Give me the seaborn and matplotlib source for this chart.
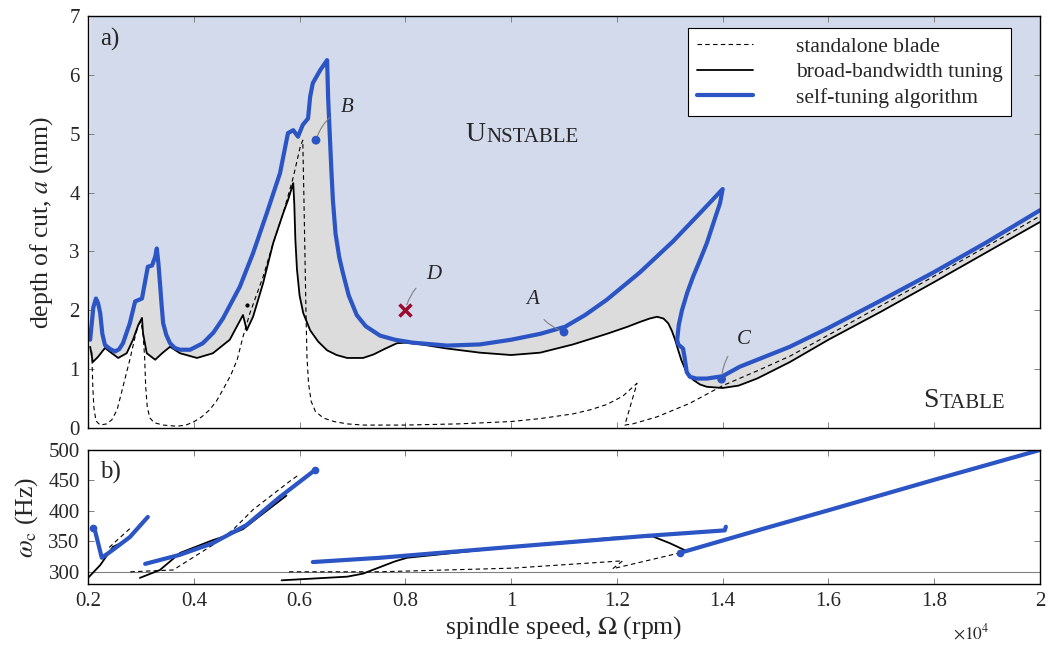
import numpy as np
import pandas as pd
import seaborn as sns
from matplotlib import pyplot as plt
from matplotlib.lines import Line2D

#%% Data (spindle speed in 1e4 rpm)
# top panel: stability lobes, depth of cut a (mm)
blue_top_x = [0.204, 0.210, 0.215, 0.219, 0.223, 0.227, 0.232, 0.242, 0.251, 0.259, 0.266, 0.279,
              0.289, 0.302, 0.313, 0.321, 0.327, 0.330, 0.333, 0.336, 0.339, 0.342, 0.348, 0.355,
              0.364, 0.374, 0.393, 0.417, 0.437, 0.455, 0.487, 0.512, 0.538, 0.563, 0.578, 0.588,
              0.597, 0.606, 0.616, 0.620, 0.625, 0.639, 0.652, 0.654, 0.657, 0.660, 0.663, 0.668,
              0.675, 0.682, 0.693, 0.708, 0.725, 0.752, 0.780, 0.814, 0.879, 0.941, 1.000, 1.055,
              1.102, 1.140, 1.181, 1.243, 1.306, 1.357, 1.400, 1.395, 1.385, 1.370, 1.357, 1.344,
              1.333, 1.323, 1.317, 1.314, 1.316, 1.325, 1.328, 1.332, 1.338, 1.350, 1.370, 1.400,
              1.432, 1.527, 1.600, 1.700, 1.800, 1.900, 2.000]
blue_top_y = [1.50, 2.05, 2.20, 2.12, 1.95, 1.60, 1.41, 1.34, 1.30, 1.34, 1.44, 1.78,
              2.15, 2.20, 2.74, 2.76, 2.91, 3.05, 2.80, 2.46, 2.10, 1.78, 1.58, 1.44,
              1.36, 1.33, 1.33, 1.44, 1.62, 1.86, 2.40, 2.97, 3.65, 4.33, 5.01, 5.06,
              4.95, 5.15, 5.26, 5.63, 5.86, 6.08, 6.25, 5.60, 5.00, 4.40, 3.87, 3.30,
              2.90, 2.63, 2.25, 1.92, 1.73, 1.57, 1.50, 1.45, 1.40, 1.42, 1.50, 1.60,
              1.72, 1.92, 2.18, 2.64, 3.17, 3.65, 4.06, 3.82, 3.55, 3.14, 2.85, 2.57,
              2.30, 2.00, 1.75, 1.50, 1.42, 1.35, 1.20, 0.95, 0.87, 0.84, 0.84, 0.88,
              1.04, 1.38, 1.70, 2.17, 2.65, 3.16, 3.70]

black_top_x = [0.204, 0.209, 0.219, 0.232, 0.245, 0.257, 0.273, 0.285, 0.295, 0.302, 0.304, 0.311,
               0.327, 0.340, 0.355, 0.374, 0.406, 0.436, 0.468, 0.493, 0.500, 0.512, 0.531, 0.550,
               0.569, 0.578, 0.586, 0.588, 0.590, 0.592, 0.595, 0.600, 0.607, 0.620, 0.635, 0.652,
               0.670, 0.690, 0.720, 0.740, 0.760, 0.784, 0.800, 0.830, 0.879, 0.941, 1.000, 1.055,
               1.117, 1.181, 1.220, 1.243, 1.262, 1.276, 1.288, 1.297, 1.304, 1.310, 1.316, 1.322,
               1.330, 1.344, 1.357, 1.370, 1.400, 1.430, 1.465, 1.527, 1.600, 1.700, 1.800, 1.900,
               2.000]
black_top_y = [1.38, 1.12, 1.21, 1.36, 1.27, 1.19, 1.27, 1.50, 1.75, 1.87, 1.61, 1.27,
               1.16, 1.27, 1.38, 1.27, 1.19, 1.27, 1.50, 1.92, 1.66, 1.89, 2.46, 3.14,
               3.65, 3.87, 4.10, 4.16, 3.80, 3.20, 2.70, 2.25, 1.95, 1.66, 1.47, 1.32,
               1.24, 1.19, 1.19, 1.25, 1.34, 1.44, 1.45, 1.42, 1.35, 1.28, 1.24, 1.28,
               1.42, 1.60, 1.72, 1.80, 1.86, 1.89, 1.86, 1.78, 1.65, 1.50, 1.32, 1.15,
               0.98, 0.82, 0.74, 0.70, 0.68, 0.72, 0.84, 1.12, 1.50, 1.98, 2.48, 2.99,
               3.50]

dash_top_x = [0.207, 0.209, 0.211, 0.215, 0.223, 0.235, 0.245, 0.255, 0.266, 0.279, 0.289, 0.295,
              0.300, 0.304, 0.307, 0.309, 0.312, 0.317, 0.325, 0.342, 0.368, 0.385, 0.399, 0.415,
              0.430, 0.443, 0.455, 0.470, 0.482, 0.493, 0.506, 0.531, 0.550, 0.569, 0.588, 0.601,
              0.606, 0.608, 0.610, 0.612, 0.614, 0.617, 0.622, 0.630, 0.645, 0.665, 0.690, 0.720,
              0.800, 0.900, 1.000, 1.055, 1.117, 1.150, 1.181, 1.211, 1.238, 1.215, 1.230, 1.276,
              1.338, 1.400, 1.465, 1.527, 1.600, 1.700, 1.800, 1.900, 2.000]
dash_top_y = [1.30, 0.70, 0.35, 0.12, 0.05, 0.07, 0.14, 0.31, 0.70, 1.16, 1.55, 1.75,
              1.80, 1.60, 1.20, 0.70, 0.35, 0.17, 0.09, 0.05, 0.03, 0.05, 0.10, 0.19,
              0.31, 0.46, 0.65, 0.90, 1.16, 1.55, 1.95, 2.57, 3.14, 3.65, 4.26, 4.77,
              4.89, 4.00, 3.00, 2.00, 1.20, 0.75, 0.45, 0.28, 0.17, 0.11, 0.07, 0.05,
              0.05, 0.07, 0.11, 0.16, 0.24, 0.31, 0.40, 0.54, 0.76, 0.05, 0.07, 0.19,
              0.42, 0.72, 0.97, 1.22, 1.58, 2.08, 2.58, 3.09, 3.60]

# test points
pts_name = ['A', 'B', 'C']
pts_x = [1.10, 0.631, 1.398]
pts_y = [1.63, 4.89, 0.83]
lbl_x = [1.04, 0.69, 1.44]
lbl_y = [2.19, 5.45, 1.50]
d_x, d_y = 0.80, 2.00

# bottom panel: chatter frequency (Hz), one list per branch
blue_bot_x = [[0.209, 0.213, 0.226, 0.247, 0.279, 0.313],
              [0.308, 0.374, 0.436, 0.500, 0.563, 0.629],
              [0.625, 0.752, 1.003, 1.257, 1.404, 1.406],
              [1.319, 1.470, 1.600, 1.800, 2.000]]
blue_bot_y = [[372, 368, 323, 336, 357, 390],
              [313, 328, 347, 377, 423, 467],
              [316, 323, 341, 359, 368, 374],
              [331, 369, 401, 451, 500]]

black_bot_x = [[0.200, 0.223, 0.247, 0.270],
               [0.298, 0.336, 0.374, 0.436, 0.468, 0.493, 0.530, 0.575],
               [0.566, 0.690, 0.720, 0.750, 0.780, 0.803, 1.003, 1.192, 1.268, 1.300, 1.332,
                1.470, 2.000]]
black_bot_y = [[290, 311, 341, 350],
               [290, 303, 331, 352, 361, 370, 395, 425],
               [286, 292, 297, 307, 317, 323, 341, 356, 358, 347, 334, 369, 500]]

dash_bot_x = [[0.240, 0.283],
              [0.280, 0.361, 0.436, 0.474, 0.512, 0.585, 0.600],
              [0.580, 0.752, 1.003, 1.211, 1.192, 1.319, 1.470, 2.000]]
dash_bot_y = [[340, 374],
              [300, 303, 344, 369, 402, 451, 460],
              [300, 300, 306, 318, 305, 331, 369, 500]]

x_ticks = [0.2, 0.4, 0.6, 0.8, 1.0, 1.2, 1.4, 1.6, 1.8, 2.0]
x_ticklabels = ['0.2', '0.4', '0.6', '0.8', '1', '1.2', '1.4', '1.6', '1.8', '2']

#%% Style
sns.set_style('ticks')
plt.rcParams['font.family'] = ['Liberation Serif', 'DejaVu Serif']
plt.rcParams['mathtext.fontset'] = 'stix'

BLUE = '#2b54c4'
FILL_BLUE = '#d3daec'
FILL_GRAY = '#dcdcdc'
RED = '#9a0b2e'
DASH = (0, (4, 3))

fig = plt.figure(figsize=(10.57, 6.48), dpi=100)
ax1 = fig.add_axes([0.0833, 0.3395, 0.9006, 0.6358])
ax2 = fig.add_axes([0.0833, 0.0988, 0.9006, 0.2068])

#%% Top panel
# unstable region above the blue curve
ax1.fill(blue_top_x + [2.0, 0.204], blue_top_y + [7, 7], color=FILL_BLUE, lw=0, zorder=0)
# gain region between broad-bandwidth and self-tuning
ax1.fill(blue_top_x + black_top_x[::-1], blue_top_y + black_top_y[::-1],
         color=FILL_GRAY, lw=0, zorder=0)

sns.lineplot(x=dash_top_x, y=dash_top_y, sort=False, estimator=None, ax=ax1,
             color='black', lw=0.8, linestyle=DASH)
sns.lineplot(x=black_top_x, y=black_top_y, sort=False, estimator=None, ax=ax1,
             color='black', lw=1.3)
ax1.plot([0.50], [2.09], 'o', color='black', ms=2)
sns.lineplot(x=blue_top_x, y=blue_top_y, sort=False, estimator=None, ax=ax1,
             color=BLUE, lw=3.0)

sns.scatterplot(x=pts_x, y=pts_y, ax=ax1, color=BLUE, s=40, edgecolor='none', zorder=5)
ax1.plot([d_x], [d_y], marker='x', color=RED, ms=8, mew=2.5, zorder=5)

for name, px, py, lx, ly in zip(pts_name, pts_x, pts_y, lbl_x, lbl_y):
    ax1.annotate(name, xy=(px, py), xytext=(lx, ly), fontsize=15, style='italic',
                 ha='center', va='center',
                 arrowprops=dict(arrowstyle='-', color='gray', lw=0.8, shrinkA=7, shrinkB=3,
                                 connectionstyle='arc3,rad=0.25'))
ax1.annotate('D', xy=(d_x, d_y), xytext=(0.854, 2.6), fontsize=15, style='italic',
             ha='center', va='center',
             arrowprops=dict(arrowstyle='-', color='gray', lw=0.8, shrinkA=7, shrinkB=4,
                             connectionstyle='arc3,rad=0.25'))

# small caps region labels
t = ax1.text(0.952, 4.98, 'U', fontsize=20, ha='right', va='center')
ax1.annotate('NSTABLE', xy=(1, 0), xycoords=t, xytext=(0.5, 0), textcoords='offset points',
             fontsize=15, ha='left', va='bottom')
t2 = ax1.text(1.808, 0.46, 'S', fontsize=20, ha='right', va='center')
ax1.annotate('TABLE', xy=(1, 0), xycoords=t2, xytext=(0.5, 0), textcoords='offset points',
             fontsize=15, ha='left', va='bottom')

ax1.text(0.013, 0.942, 'a)', transform=ax1.transAxes, fontsize=18, va='center')

ax1.set_xlim(0.2, 2.0)
ax1.set_ylim(0, 7)
ax1.set_xticks(x_ticks)
ax1.set_xticklabels([])
ax1.set_yticks(range(8))
ax1.set_ylabel('depth of cut, $a$ (mm)', fontsize=18.5, labelpad=10)

handles = [Line2D([], [], color='black', lw=0.8, linestyle=DASH),
           Line2D([], [], color='black', lw=1.3),
           Line2D([], [], color=BLUE, lw=3.0)]
labels = ['standalone blade', 'broad-bandwidth tuning', 'self-tuning algorithm']
leg = ax1.legend(handles, labels, loc='upper right', bbox_to_anchor=(0.9695, 0.971),
                 borderaxespad=0, fontsize=15.5, frameon=True, fancybox=False,
                 edgecolor='black', framealpha=1, handlelength=2.6, labelspacing=0.25,
                 borderpad=0.4, handletextpad=2.0)
leg.get_frame().set_linewidth(0.8)

#%% Bottom panel
ax2.axhline(300, color='gray', lw=0.8, zorder=0)
for xs, ys in zip(dash_bot_x, dash_bot_y):
    sns.lineplot(x=xs, y=ys, sort=False, estimator=None, ax=ax2,
                 color='black', lw=0.8, linestyle=DASH)
for xs, ys in zip(black_bot_x, black_bot_y):
    sns.lineplot(x=xs, y=ys, sort=False, estimator=None, ax=ax2, color='black', lw=1.3)
for xs, ys in zip(blue_bot_x, blue_bot_y):
    sns.lineplot(x=xs, y=ys, sort=False, estimator=None, ax=ax2, color=BLUE, lw=3.0)
ax2.plot([blue_bot_x[0][0], blue_bot_x[1][-1], blue_bot_x[3][0]],
         [blue_bot_y[0][0], blue_bot_y[1][-1], blue_bot_y[3][0]],
         'o', color=BLUE, ms=4.5)

ax2.text(0.013, 0.83, 'b)', transform=ax2.transAxes, fontsize=18, va='center')
ax2.set_xlim(0.2, 2.0)
ax2.set_ylim(280, 500)
ax2.set_xticks(x_ticks)
ax2.set_xticklabels(x_ticklabels)
ax2.set_yticks([300, 350, 400, 450, 500])
ax2.set_ylabel(r'$\omega_\mathrm{c}$ (Hz)', fontsize=18.5, labelpad=6)
ax2.set_xlabel(r'spindle speed, $\Omega$ (rpm)', fontsize=18.5, labelpad=2)
fig.text(0.902, 0.008, r'$\times10^4$', fontsize=12.5, ha='left', va='bottom')

for ax in (ax1, ax2):
    ax.tick_params(direction='in', top=True, right=True, length=4, width=0.7,
                   color='gray', labelsize=15, pad=6)
    for s in ax.spines.values():
        s.set_linewidth(1.0)
        s.set_color('black')

fig.savefig('out.png', dpi=100)
